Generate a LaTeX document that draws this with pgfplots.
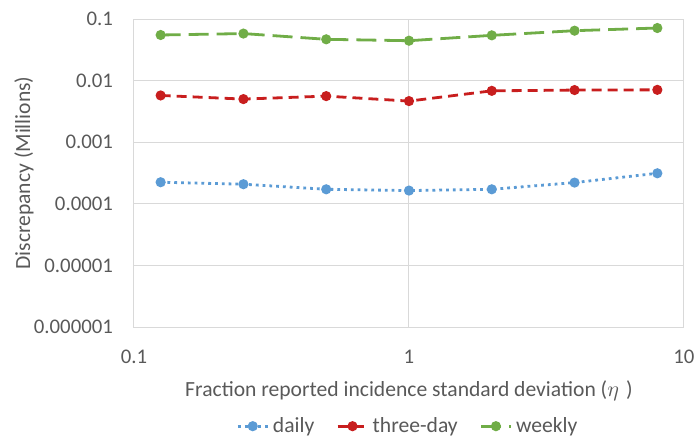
\documentclass[border=0pt]{standalone}
\usepackage{pgfplots}
\pgfplotsset{compat=1.18}
\usepackage{fontspec}
\setmainfont{Carlito}
\definecolor{txt}{RGB}{89,89,89}
\definecolor{gridc}{RGB}{217,217,217}
\definecolor{cblue}{RGB}{91,155,213}
\definecolor{cred}{RGB}{200,30,30}
\definecolor{cgreen}{RGB}{112,173,71}
\begin{document}
\begin{tikzpicture}
\useasboundingbox (-67pt,-56pt) rectangle (281pt,163.5pt);
\begin{axis}[
  at={(0,0)}, anchor=south west,
  scale only axis, width=275pt, height=154pt,
  xmode=log, ymode=log,
  xmin=0.1, xmax=10, ymin=1e-6, ymax=0.1,
  xtick={0.1,1,10}, xticklabels={0.1,1,10},
  ytick={1e-6,1e-5,1e-4,1e-3,1e-2,1e-1},
  yticklabels={0.000001,0.00001,0.0001,0.001,0.01,0.1},
  xminorticks=false, yminorticks=false,
  major tick length=0pt,
  grid=major,
  major grid style={gridc, line width=0.5pt},
  axis line style={gridc, line width=0.5pt},
  tick label style={font=\fontsize{10.4}{12}\selectfont, text=txt},
  yticklabel style={xshift=-7pt},
  xticklabel style={yshift=-8pt},
  label style={font=\fontsize{10.8}{12}\selectfont, text=txt},
  xlabel={Fraction reported incidence standard deviation ($\eta$\,\,)},
  ylabel={Discrepancy (Millions)},
  xlabel style={at={(axis description cs:0.5,0)}, anchor=center, yshift=-32pt},
  ylabel style={at={(axis description cs:-0.2,0.5)}, anchor=center},
  legend style={at={(axis description cs:0.5,-0.322)}, anchor=center, draw=none,
    font=\fontsize{10.8}{12}\selectfont, text=txt, legend columns=3,
    inner sep=1pt,
    /tikz/every even column/.append style={column sep=9pt},
    /tikz/every odd column/.append style={column sep=0pt}},
  legend cell align=left,
  legend image code/.code={\draw[mark repeat=2,mark phase=2,#1] plot coordinates {(0cm,0cm) (0.26cm,0cm) (0.52cm,0cm)};},
  every axis plot/.append style={line width=1.4pt, mark=*, mark size=1.8pt, mark options={solid}},
]
\addplot[cblue, dotted] coordinates {
 (0.125,0.000224) (0.25,0.000208) (0.5,0.000172) (1,0.000164) (2,0.000172) (4,0.000221) (8,0.000313)};
\addlegendentry{daily}
\addplot[cred, dash pattern=on 5pt off 3pt] coordinates {
 (0.125,0.00574) (0.25,0.00501) (0.5,0.0056) (1,0.00465) (2,0.00682) (4,0.00702) (8,0.00708)};
\addlegendentry{three-day}
\addplot[cgreen, dash pattern=on 10pt off 4pt] coordinates {
 (0.125,0.055) (0.25,0.058) (0.5,0.0468) (1,0.0444) (2,0.0543) (4,0.0646) (8,0.0714)};
\addlegendentry{weekly}
\end{axis}
\end{tikzpicture}
\end{document}
